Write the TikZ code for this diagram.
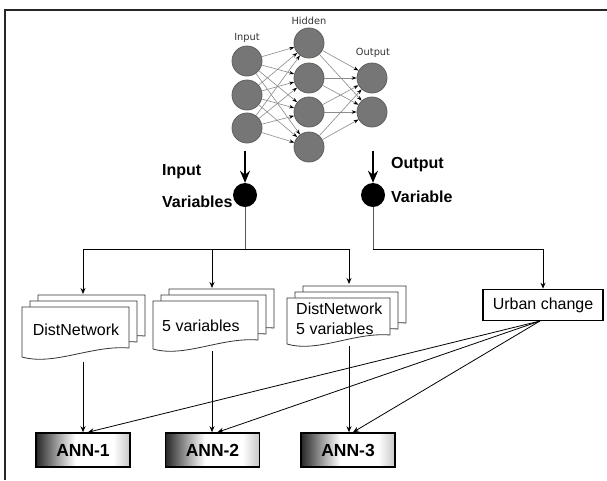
\documentclass[tikz,border=0pt]{standalone}
\usepackage{fontspec}
\setmainfont{Liberation Sans}
\newfontfamily\nnfont{DejaVu Sans}
\usetikzlibrary{arrows.meta}
\definecolor{nnfill}{RGB}{118,118,118}
\definecolor{nndraw}{RGB}{100,94,88}
\pgfdeclarehorizontalshading{annshade}{100bp}{color(0bp)=(black!85); color(25bp)=(black!85); color(37bp)=(black!35); color(46bp)=(white); color(66bp)=(white); color(75bp)=(black!22); color(100bp)=(black!22)}
\newcommand{\docshape}[4]{%
  \foreach \dd in {2,1,0} {%
    \draw[docstyle,shift={(8*\dd,-6*\dd)}] (#1,#2) -- ++(#3,0) -- ++(0,#4-9)
      .. controls +(-0.35*#3,-3) and +(0.3*#3,9) .. (#1,#2+#4) -- cycle;
  }}
\begin{document}
\begin{tikzpicture}[x=1pt,y=-1pt,
  neuron/.style={circle,minimum size=30pt,inner sep=0pt,fill=nnfill,draw=nndraw,line width=0.8pt},
  nnedge/.style={draw=black!45,line width=0.6pt,-{Stealth[length=5pt,width=3.5pt,color=black]}},
  nnlabel/.style={font=\nnfont\fontsize{9.8}{11}\selectfont,inner sep=0pt,text=black!80},
  bigarrow/.style={line width=2pt,-{Stealth[length=12pt,width=10pt]}},
  bigdot/.style={circle,fill=black,minimum size=24pt,inner sep=0pt},
  vlabel/.style={font=\bfseries\fontsize{16}{19}\selectfont,anchor=west,inner sep=0pt},
  arr/.style={line width=0.8pt,-{Stealth[length=6pt,width=5pt]}},
  docstyle/.style={draw=black!80,fill=white,line width=0.8pt},
  doctext/.style={font=\fontsize{16}{20}\selectfont,inner sep=0pt},
  ucbox/.style={draw=black,line width=1.6pt,fill=white,minimum width=120pt,minimum height=31pt,inner sep=0pt,font=\fontsize{16}{19}\selectfont},
  annbox/.style={draw=black,line width=1.6pt,minimum width=94pt,minimum height=34pt,inner sep=0pt,
    shading=annshade,font=\bfseries\fontsize{17.5}{20}\selectfont}
]
\useasboundingbox (0,0) rectangle (607,480);
\fill[white] (0,0) rectangle (607,480);
% frame
\draw[line width=2pt,black!85] (5,480) -- (5,10) -- (607,10);

% neural network
\node[neuron] (i1) at (247,61) {};
\node[neuron] (i2) at (247,95) {};
\node[neuron] (i3) at (247,128) {};
\node[neuron] (h1) at (309,43) {};
\node[neuron] (h2) at (309,78) {};
\node[neuron] (h3) at (309,112) {};
\node[neuron] (h4) at (309,147) {};
\node[neuron] (o1) at (372,78) {};
\node[neuron] (o2) at (372,112) {};
\foreach \a in {i1,i2,i3}{\foreach \b in {h1,h2,h3,h4}{\draw[nnedge] (\a) -- (\b);}}
\foreach \a in {h1,h2,h3,h4}{\foreach \b in {o1,o2}{\draw[nnedge] (\a) -- (\b);}}
\node[nnlabel] (li) at (247,38) {Input};
\node[nnlabel] (lh) at (309,21) {Hidden};
\node[nnlabel] (lo) at (373,53) {Output};

% variables
\coordinate (aL) at (245,151);
\coordinate (aR) at (373,151);
\node[bigdot] (dotL) at (245,195) {};
\node[bigdot] (dotR) at (373,195) {};
\draw[bigarrow] (aL) -- (dotL);
\draw[bigarrow] (aR) -- (dotR);
\node[vlabel] (iv1) at (162,172) {Input};
\node[vlabel] (iv2) at (162,202) {Variables};
\node[vlabel] (ov1) at (391,165) {Output};
\node[vlabel] (ov2) at (391,197) {Variable};

% documents
\docshape{22}{307}{107}{50}
\docshape{153}{301}{105}{48}
\docshape{287}{298}{103}{46}
\node[doctext] (t1) at (76,330) {DistNetwork};
\node[doctext,anchor=west] (t2) at (162,326) {5 variables};
\node[doctext,anchor=west,align=left] (t3) at (296,319) {DistNetwork\\5 variables};

\node[ucbox] (uc) at (543,305) {Urban change};

% connectors to documents
\coordinate (jL) at (245,249);
\coordinate (jR) at (373,249);
\coordinate (d1t) at (83,294);
\coordinate (d2t) at (212,288);
\coordinate (d3t) at (349,284);
\draw[black!65,line width=1pt] (dotL) -- (jL);
\draw[black!65,line width=1pt] (dotR) -- (jR);
\draw[arr] (jL) -| (d1t);
\draw[arr] (jL) -| (d2t);
\draw[arr] (jL) -| (d3t);
\draw[arr] (jR) -| (uc.north);

% ANN boxes
\node[annbox] (ann1) at (83,450) {ANN-1};
\node[annbox] (ann2) at (212.5,450) {ANN-2};
\node[annbox] (ann3) at (348,450) {ANN-3};

\coordinate (d1b) at (83,362);
\coordinate (d2b) at (212,351);
\coordinate (d3b) at (349,346);
\draw[arr] (d1b) -- (ann1.north);
\draw[arr] (d2b) -- ([xshift=-0.5pt]ann2.north);
\draw[arr] (d3b) -- ([xshift=1pt]ann3.north);

\coordinate (ucb) at (540,321);
\draw[arr] (ucb) -- ([xshift=5pt]ann1.north);
\draw[arr] (ucb) -- ([xshift=5pt]ann2.north);
\draw[arr] (ucb) -- ([xshift=5pt]ann3.north);
\end{tikzpicture}
\end{document}
